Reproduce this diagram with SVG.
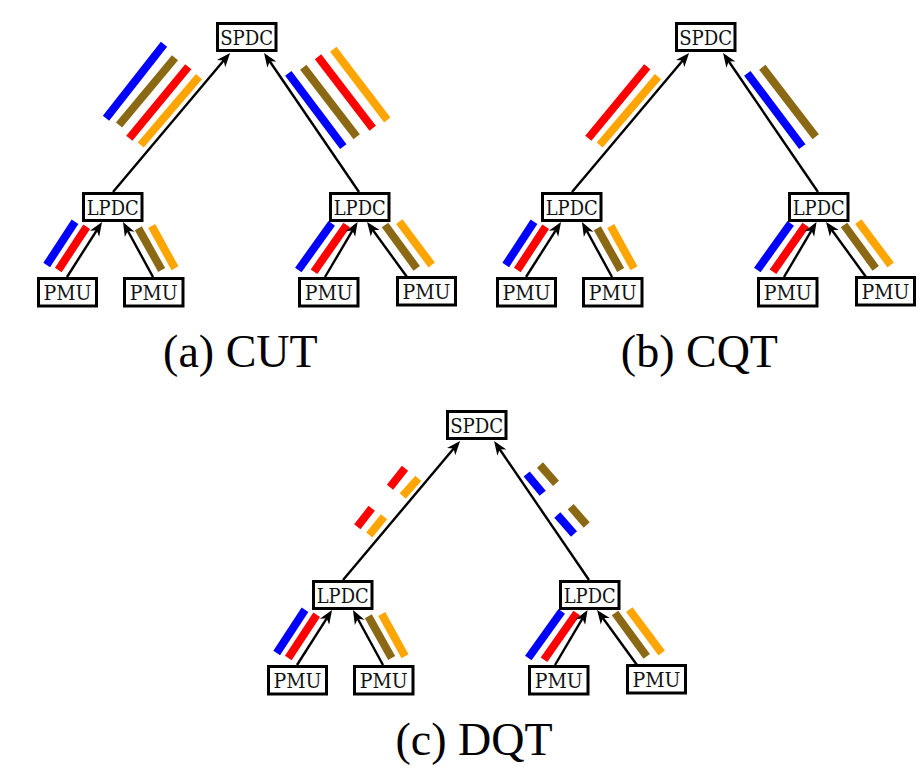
<svg xmlns="http://www.w3.org/2000/svg" width="923" height="778" viewBox="0 0 923 778">
<defs>
<style>
.box{fill:#fff;stroke:#000;stroke-width:3}
.lbl{font-family:"DejaVu Serif",serif;font-size:21px;text-anchor:middle;fill:#111}
.cap{font-family:"Liberation Serif","Times New Roman",serif;font-size:46px;text-anchor:middle;fill:#000}
.edge{stroke:#000;stroke-width:2.4;fill:none;marker-end:url(#ah)}
.bar{stroke-width:8;stroke-linecap:butt;fill:none}
.b{stroke:#0000ff}.n{stroke:#8b6914}.r{stroke:#ff0000}.o{stroke:#ffa500}
</style>
<marker id="ah" markerUnits="userSpaceOnUse" viewBox="0 0 14 12" markerWidth="14" markerHeight="12" refX="10" refY="6" orient="auto">
<path d="M0,0.5 L14,6 L0,11.5 L4,6 Z" fill="#000"/>
</marker>
</defs>
<rect x="0" y="0" width="923" height="778" fill="#fff"/>

<!-- Panel (a) -->
<g id="panel-a">
<g id="a-streams">
<line class="bar b" x1="106" y1="118.3" x2="164" y2="44.3"/>
<line class="bar n" x1="119" y1="125" x2="175" y2="57.7"/>
<line class="bar r" x1="129.3" y1="138.3" x2="188.3" y2="66.7"/>
<line class="bar o" x1="140.7" y1="145" x2="199" y2="76.7"/>
<line class="bar b" x1="288.3" y1="73.3" x2="343.3" y2="146.7"/>
<line class="bar n" x1="303.3" y1="67.3" x2="356.7" y2="136.7"/>
<line class="bar r" x1="318" y1="56.7" x2="372.7" y2="128.3"/>
<line class="bar o" x1="333.3" y1="49.3" x2="387.3" y2="120"/>
<line class="bar b" x1="46.7" y1="265" x2="75" y2="221.7"/>
<line class="bar r" x1="58.3" y1="270" x2="86.7" y2="226.7"/>
<line class="bar n" x1="138.3" y1="228.3" x2="161.7" y2="270"/>
<line class="bar o" x1="151.7" y1="226" x2="175" y2="268.3"/>
<line class="bar b" x1="298.3" y1="270" x2="331.7" y2="223.3"/>
<line class="bar r" x1="314" y1="271.7" x2="346.7" y2="225"/>
<line class="bar n" x1="385" y1="225" x2="416.7" y2="268.3"/>
<line class="bar o" x1="399.3" y1="221.7" x2="431.7" y2="265"/>
</g>
<g id="a-connectors">
<line class="edge" x1="113" y1="192" x2="227.5" y2="56"/>
<line class="edge" x1="359" y1="192" x2="266.3" y2="56.3"/>
<line class="edge" x1="67" y1="277" x2="99.9" y2="225.3"/>
<line class="edge" x1="153" y1="277" x2="124.9" y2="225.5"/>
<line class="edge" x1="325" y1="277" x2="355.5" y2="225.4"/>
<line class="edge" x1="407" y1="277" x2="369.4" y2="225.2"/>
</g>
<g id="a-spdc"><rect class="box" x="217.5" y="23.5" width="58.5" height="27"/><text class="lbl" x="246.7" y="44.5" textLength="53" lengthAdjust="spacingAndGlyphs">SPDC</text></g>
<g id="a-lpdc1"><rect class="box" x="83.5" y="193.5" width="58.5" height="27"/><text class="lbl" x="112.7" y="214.5" textLength="52" lengthAdjust="spacingAndGlyphs">LPDC</text></g>
<g id="a-lpdc2"><rect class="box" x="330.5" y="193.5" width="58.5" height="27"/><text class="lbl" x="359.7" y="214.5" textLength="52" lengthAdjust="spacingAndGlyphs">LPDC</text></g>
<g id="a-pmu1"><rect class="box" x="38.5" y="278.5" width="58" height="27.5"/><text class="lbl" x="67.5" y="300" textLength="48" lengthAdjust="spacingAndGlyphs">PMU</text></g>
<g id="a-pmu2"><rect class="box" x="124.5" y="278.5" width="58.5" height="27.5"/><text class="lbl" x="153.7" y="300" textLength="48" lengthAdjust="spacingAndGlyphs">PMU</text></g>
<g id="a-pmu3"><rect class="box" x="299.5" y="278.5" width="58.5" height="27.5"/><text class="lbl" x="328.7" y="300" textLength="48" lengthAdjust="spacingAndGlyphs">PMU</text></g>
<g id="a-pmu4"><rect class="box" x="397.5" y="277.5" width="58" height="27.5"/><text class="lbl" x="426.5" y="299" textLength="48" lengthAdjust="spacingAndGlyphs">PMU</text></g>
<text id="a-caption" class="cap" x="240.4" y="367">(a) CUT</text>
</g>

<!-- Panel (b) -->
<g id="panel-b" transform="translate(459,0)">
<g id="b-streams">
<line class="bar r" x1="129.3" y1="138.3" x2="188.3" y2="66.7"/>
<line class="bar o" x1="140.7" y1="145" x2="199" y2="76.7"/>
<line class="bar b" x1="288.3" y1="73.3" x2="343.3" y2="146.7"/>
<line class="bar n" x1="303.3" y1="67.3" x2="356.7" y2="136.7"/>
<line class="bar b" x1="46.7" y1="265" x2="75" y2="221.7"/>
<line class="bar r" x1="58.3" y1="270" x2="86.7" y2="226.7"/>
<line class="bar n" x1="138.3" y1="228.3" x2="161.7" y2="270"/>
<line class="bar o" x1="151.7" y1="226" x2="175" y2="268.3"/>
<line class="bar b" x1="298.3" y1="270" x2="331.7" y2="223.3"/>
<line class="bar r" x1="314" y1="271.7" x2="346.7" y2="225"/>
<line class="bar n" x1="385" y1="225" x2="416.7" y2="268.3"/>
<line class="bar o" x1="399.3" y1="221.7" x2="431.7" y2="265"/>
</g>
<g id="b-connectors">
<line class="edge" x1="113" y1="192" x2="227.5" y2="56"/>
<line class="edge" x1="359" y1="192" x2="266.3" y2="56.3"/>
<line class="edge" x1="67" y1="277" x2="99.9" y2="225.3"/>
<line class="edge" x1="153" y1="277" x2="124.9" y2="225.5"/>
<line class="edge" x1="325" y1="277" x2="355.5" y2="225.4"/>
<line class="edge" x1="407" y1="277" x2="369.4" y2="225.2"/>
</g>
<g id="b-spdc"><rect class="box" x="217.5" y="23.5" width="58.5" height="27"/><text class="lbl" x="246.7" y="44.5" textLength="53" lengthAdjust="spacingAndGlyphs">SPDC</text></g>
<g id="b-lpdc1"><rect class="box" x="83.5" y="193.5" width="58.5" height="27"/><text class="lbl" x="112.7" y="214.5" textLength="52" lengthAdjust="spacingAndGlyphs">LPDC</text></g>
<g id="b-lpdc2"><rect class="box" x="330.5" y="193.5" width="58.5" height="27"/><text class="lbl" x="359.7" y="214.5" textLength="52" lengthAdjust="spacingAndGlyphs">LPDC</text></g>
<g id="b-pmu1"><rect class="box" x="38.5" y="278.5" width="58" height="27.5"/><text class="lbl" x="67.5" y="300" textLength="48" lengthAdjust="spacingAndGlyphs">PMU</text></g>
<g id="b-pmu2"><rect class="box" x="124.5" y="278.5" width="58.5" height="27.5"/><text class="lbl" x="153.7" y="300" textLength="48" lengthAdjust="spacingAndGlyphs">PMU</text></g>
<g id="b-pmu3"><rect class="box" x="299.5" y="278.5" width="58.5" height="27.5"/><text class="lbl" x="328.7" y="300" textLength="48" lengthAdjust="spacingAndGlyphs">PMU</text></g>
<g id="b-pmu4"><rect class="box" x="397.5" y="277.5" width="58" height="27.5"/><text class="lbl" x="426.5" y="299" textLength="48" lengthAdjust="spacingAndGlyphs">PMU</text></g>
<text id="b-caption" class="cap" x="240.4" y="367">(b) CQT</text>
</g>

<!-- Panel (c) -->
<g id="panel-c" transform="translate(230,388)">
<g id="c-streams">
<line class="bar r" x1="160" y1="99.3" x2="175" y2="80.3"/>
<line class="bar o" x1="172.7" y1="108" x2="188.3" y2="90.3"/>
<line class="bar r" x1="127.3" y1="138.7" x2="141.7" y2="120.3"/>
<line class="bar o" x1="139.3" y1="147" x2="154" y2="128.7"/>
<line class="bar b" x1="296.7" y1="86" x2="312.7" y2="105.3"/>
<line class="bar n" x1="310" y1="77" x2="326" y2="95.3"/>
<line class="bar b" x1="327.3" y1="127" x2="344" y2="146"/>
<line class="bar n" x1="340.7" y1="118.7" x2="356.7" y2="137"/>
<line class="bar b" x1="46.7" y1="265" x2="75" y2="221.7"/>
<line class="bar r" x1="58.3" y1="270" x2="86.7" y2="226.7"/>
<line class="bar n" x1="138.3" y1="228.3" x2="161.7" y2="270"/>
<line class="bar o" x1="151.7" y1="226" x2="175" y2="268.3"/>
<line class="bar b" x1="298.3" y1="270" x2="331.7" y2="223.3"/>
<line class="bar r" x1="314" y1="271.7" x2="346.7" y2="225"/>
<line class="bar n" x1="385" y1="225" x2="416.7" y2="268.3"/>
<line class="bar o" x1="399.3" y1="221.7" x2="431.7" y2="265"/>
</g>
<g id="c-connectors">
<line class="edge" x1="113" y1="192" x2="227.5" y2="56"/>
<line class="edge" x1="359" y1="192" x2="266.3" y2="56.3"/>
<line class="edge" x1="67" y1="277" x2="99.9" y2="225.3"/>
<line class="edge" x1="153" y1="277" x2="124.9" y2="225.5"/>
<line class="edge" x1="325" y1="277" x2="355.5" y2="225.4"/>
<line class="edge" x1="407" y1="277" x2="369.4" y2="225.2"/>
</g>
<g id="c-spdc"><rect class="box" x="217.5" y="23.5" width="58.5" height="27"/><text class="lbl" x="246.7" y="44.5" textLength="53" lengthAdjust="spacingAndGlyphs">SPDC</text></g>
<g id="c-lpdc1"><rect class="box" x="83.5" y="193.5" width="58.5" height="27"/><text class="lbl" x="112.7" y="214.5" textLength="52" lengthAdjust="spacingAndGlyphs">LPDC</text></g>
<g id="c-lpdc2"><rect class="box" x="330.5" y="193.5" width="58.5" height="27"/><text class="lbl" x="359.7" y="214.5" textLength="52" lengthAdjust="spacingAndGlyphs">LPDC</text></g>
<g id="c-pmu1"><rect class="box" x="38.5" y="278.5" width="58" height="27.5"/><text class="lbl" x="67.5" y="300" textLength="48" lengthAdjust="spacingAndGlyphs">PMU</text></g>
<g id="c-pmu2"><rect class="box" x="124.5" y="278.5" width="58.5" height="27.5"/><text class="lbl" x="153.7" y="300" textLength="48" lengthAdjust="spacingAndGlyphs">PMU</text></g>
<g id="c-pmu3"><rect class="box" x="299.5" y="278.5" width="58.5" height="27.5"/><text class="lbl" x="328.7" y="300" textLength="48" lengthAdjust="spacingAndGlyphs">PMU</text></g>
<g id="c-pmu4"><rect class="box" x="397.5" y="277.5" width="58" height="27.5"/><text class="lbl" x="426.5" y="299" textLength="48" lengthAdjust="spacingAndGlyphs">PMU</text></g>
</g>
<text id="c-caption" class="cap" x="474" y="755">(c) DQT</text>
</svg>
